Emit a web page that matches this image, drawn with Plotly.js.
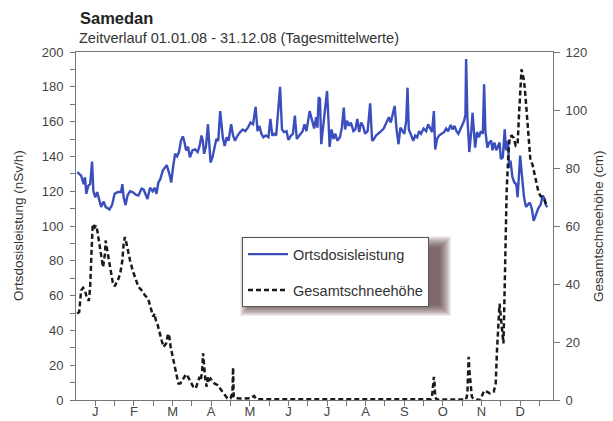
<!DOCTYPE html>
<html><head><meta charset="utf-8">
<script src="https://cdn.plot.ly/plotly-3.0.1.min.js"></script>
<style>html,body{margin:0;padding:0;background:#fff}#chart{width:613px;height:421px}</style>
</head><body><div id="chart"></div>
<script>
// Ortsdosisleistung (nSv/h), day of year 2008
const odlDays = [1,4,6,7,8,9.5,11,12.5,13.5,15,16.5,18,19.5,21.5,23,26,28,30,32.5,35,36,37,38.5,40,42,44,46.5,48.5,51,52.5,54,55.5,57.5,59.5,61,62.5,64,65.5,67.5,69,70.5,72.5,74,75.5,77,78.5,80,81.5,83,84,85.5,87,88.5,90.5,92.5,94.5,96,97.5,98.5,99.5,101,102.5,103.5,104.5,106,107.5,109,110.5,112,114,115.5,117,118.5,120.5,122,123.5,125.5,127.5,129.5,131.5,133.5,135.5,137.5,139.5,141,142.5,144,145.5,147.5,149.5,151,152.5,154,155.5,156.5,158.5,160,161.5,163.5,165,167,168.5,170,171.5,173,174.5,176,177.5,179,181.5,183.5,185,186.5,187.5,188.5,189.5,190.5,192,193.5,195,196,197,198.5,200,201.5,203,205,206.5,208,209,210.5,212,213.5,215.5,217,218.5,220,221.5,223,224.5,226.5,228.5,230,231.5,233,235,237,239,241,243,244.5,246,247.5,249,250.5,252,253.5,255,256.5,257.5,258.5,260,262,263.5,265,266.5,268,270,272,273.5,275,276.5,278,279,280.5,282,284,286,287.5,289,291,292.5,294,295.5,297,298.5,300,301.5,302.5,303,304,305.5,307,308,310,311.5,313,314.5,316,317,318,319.5,321,322.5,323.5,325,326.5,328,329,330,331.5,333,334,335.5,336.5,337.5,339,340.5,342,343,344,345,346,347,348,349.5,351,352.5,354,355.5,357.5,359,361,362.5,364,365,366];
const odlValues = [131,129,124,128,118.5,123,124,137,120,116.5,119.5,115.5,111,114,111,109.5,112,118.5,119.5,119.5,124,116.5,112,117.5,120,119.5,118,117.5,121.5,121,118.5,115.5,122,120,122,118.5,125,127,132,133.5,135,130,125,134.5,141.5,140,142.5,149,151.5,149,143.5,145.5,139.5,143.5,144,142.5,146,152,149,141.5,146,158.5,143.5,136.5,139.5,144,150,149,166,151,146,151,149,158.5,152,149,152,154,155.5,154.5,156.5,159.5,158.5,168.5,154.5,157.5,153,151,152,151,161.5,152,153,152,160.5,180,155.5,154,154.5,149.5,152,153,163.5,150,151.5,153,154.5,158.5,154.5,166,159.5,156,162.5,156.5,174,173,147,157.5,166,177.5,162.5,145.5,155.5,150,153,149,151,156.5,168,155.5,160.5,157.5,159.5,154.5,155.5,161.5,154,159.5,157.5,153,154.5,170.5,149,150,152,153,154.5,156,159.5,162.5,159.5,164.5,169,155.5,147,156.5,154.5,153,160.5,179.5,155.5,153,149,152,151,154.5,153,156,154.5,158.5,156.5,154,166,144,150,152,153,154,156,154.5,158,155.5,157.5,154.5,153,155.5,157.5,160.5,164,196,162.5,142.5,154.5,165,145,154,151,154.5,153,181.5,154.5,145,148,149,143.5,148,143.5,147,148,138.5,139.5,155.5,143.5,149,133.5,137.5,128,125,124,116.5,132,140.5,132,124,116.5,111,112.5,113.5,110,103,107,110,112.5,117.5,115.5,112,111];

// Gesamtschneehöhe (cm), day of year 2008
const snowDays = [1,2.5,4,5.5,7,8.5,10,11,12,13,14.5,15.5,16.5,18,19.5,21,22.5,23,24.5,25.5,27,28.5,30,31.5,33,34.5,36,37,38,39,40.5,42,44,46.5,48.5,51,53.5,56,58,60,61,62,63.5,65,66.5,68,70,71.5,72.5,73.5,75,76.5,78,79.5,81,82.5,84,85.5,87,89,91,93,94.5,96,97,98,98.7,99.5,100.5,101.5,102.5,103.5,104.5,106,107.5,110,112,114,116,117.5,120,121.5,122,122.5,124,128,135.5,138.3,140,160,200,240,275.5,276.5,277.5,278,278.5,279,280,303,304,305,305.5,306.5,307.5,308.5,311,314,315.5,317,319,321.5,324.5,326,327,328,329,330,331,332,332.5,333.5,334.5,336,337,338.5,340,341.5,343,344,345,346,347,348,349,350.5,352,353,354.5,356,357.5,359,360.5,362,363.5,365,366];
const snowValues = [29.8,30.4,37.8,38.7,37.8,35,34.2,39,50.4,60.7,59.6,60.2,58.5,53.9,49.3,45.8,50.4,55,51,48.1,43.6,40.7,39.2,40.7,41.8,44.1,48.1,53.9,56.2,54.4,51,48.1,44.7,41.3,39,37.8,36.1,35,32.1,28.7,29.8,27.5,25.8,22.9,20.6,18.3,19.5,22.9,21.8,18.3,14.9,11.5,8,5.7,5.7,6.9,8,8.9,8,6,4.6,4,6.3,8,6.9,10.3,16.1,11.5,6.9,4.6,8,6.9,7.4,6.3,5.7,5.1,4,2.9,1.7,0.6,0.6,2.3,11.2,1.1,0.6,0.5,0.6,1.4,0.3,0.3,0.3,0.3,0.3,1,7.4,8,5.8,1,0.2,0.2,2.2,14.9,10.3,4.6,1.1,0.6,0.2,0,1.7,3.2,2.9,2.3,2.9,5.7,17.2,25.2,33.2,28.6,24.1,19.5,28.6,51.6,72.2,86,90.8,91.1,90.4,87.7,88.2,97.4,108.9,114,112.3,110,105.4,97.4,89.4,82.5,81.3,77.9,74.5,72.2,70.5,69.9,69.4,67.6,66.5];

// x-axis ticks (every 15 days), month letters on every other tick
const tickDays = [15,30,45,60,75,90,105,120,135,150,165,180,195,210,225,240,255,270,285,300,315,330,345,360];
const tickLabels = ['J','','F','','M','','A','','M','','J','','J','','A','','S','','O','','N','','D',''];

const titleText = 'Samedan';
const subtitleText = 'Zeitverlauf 01.01.08 - 31.12.08 (Tagesmittelwerte)';
const leftTitle = 'Ortsdosisleistung (nSv/h)';
const rightTitle = 'Gesamtschneehöhe (cm)';

// plot area in pixels
const PL = 76, PR = 553, PT = 51.5, PB = 400;
const px2x = px => (px - PL) / (PR - PL);
const py2y = py => (PB - py) / (PB - PT);

const FONT = 'Liberation Sans, Arial, sans-serif';

const traces = [
  {x: odlDays, y: odlValues, type: 'scatter', mode: 'lines', name: 'Ortsdosisleistung',
   line: {color: '#3a4ebe', width: 2.4}, yaxis: 'y', legendgroup: 'a'},
  {x: snowDays, y: snowValues, type: 'scatter', mode: 'lines', name: 'Gesamtschneehöhe',
   line: {color: '#1a1a1a', width: 2.5, dash: '5px,3px'}, yaxis: 'y2', legendgroup: 'b'}
];

// legend drop shadow (soft, brownish)
const shadowShapes = [];
const lb = {x0: 242, y0: 237, x1: 437, y1: 301};
const off = {dx: 6, dy: 7};
[8, 7, 6, 5, 4, 3, 2, 1, 0, -1, -2, -3].forEach(r => {
  shadowShapes.push({type: 'rect', xref: 'paper', yref: 'paper', layer: 'above',
    x0: px2x(lb.x0 + off.dx - r), x1: px2x(lb.x1 + off.dx + r),
    y0: py2y(lb.y1 + off.dy + r), y1: py2y(lb.y0 + off.dy - r),
    line: {width: 0}, fillcolor: 'rgba(70,35,35,0.085)'});
});

const axisCommon = {showgrid: false, zeroline: false, showline: true, linecolor: '#777', linewidth: 1,
  ticks: 'outside', tickcolor: '#777', tickwidth: 1, tickfont: {family: FONT, size: 13, color: '#444'}};

const layout = {
  width: 613, height: 421,
  margin: {l: PL, r: 613 - PR, t: PT, b: 421 - PB, pad: 0},
  paper_bgcolor: '#fff', plot_bgcolor: '#fff',
  font: {family: FONT, size: 13, color: '#333'},
  showlegend: true,
  legend: {x: px2x(lb.x0), y: py2y(lb.y0), xanchor: 'left', yanchor: 'top',
    bgcolor: '#fff', bordercolor: '#555', borderwidth: 1,
    font: {family: FONT, size: 14.5, color: '#333'},
    traceorder: 'grouped', tracegroupgap: 14, itemwidth: 40, entrywidth: 150, entrywidthmode: 'pixels'},
  xaxis: Object.assign({}, axisCommon, {range: [0, 370.5], tickmode: 'array', tickvals: tickDays, ticktext: tickLabels,
    ticklen: 5, ticklabelstandoff: -6, mirror: true, fixedrange: true}),
  yaxis: Object.assign({}, axisCommon, {range: [0, 200], tick0: 0, dtick: 20, ticklen: 5, ticklabelstandoff: 4,
    minor: {dtick: 10, ticks: 'outside', ticklen: 5, tickcolor: '#777'}}),
  yaxis2: Object.assign({}, axisCommon, {range: [0, 120], tick0: 0, dtick: 20, ticklen: 6, overlaying: 'y', side: 'right',
    ticklabelstandoff: 3}),
  shapes: shadowShapes,
  annotations: [
    {text: '<b>' + titleText + '</b>', xref: 'paper', yref: 'paper', x: px2x(78), y: py2y(17), xanchor: 'left', yanchor: 'middle',
     showarrow: false, font: {family: FONT, size: 16.5, color: '#222'}},
    {text: subtitleText, xref: 'paper', yref: 'paper', x: px2x(77), y: py2y(37), xanchor: 'left', yanchor: 'middle',
     showarrow: false, font: {family: FONT, size: 14.5, color: '#333'}},
    {text: leftTitle, xref: 'paper', yref: 'paper', x: px2x(18), y: 0.5, xanchor: 'center', yanchor: 'middle', textangle: -90,
     showarrow: false, font: {family: FONT, size: 13.5, color: '#333'}},
    {text: rightTitle, xref: 'paper', yref: 'paper', x: px2x(598), y: 0.5, xanchor: 'center', yanchor: 'middle', textangle: -90,
     showarrow: false, font: {family: FONT, size: 13.5, color: '#333'}}
  ]
};

Plotly.newPlot('chart', traces, layout, {staticPlot: true, displayModeBar: false});
</script>
</body></html>
